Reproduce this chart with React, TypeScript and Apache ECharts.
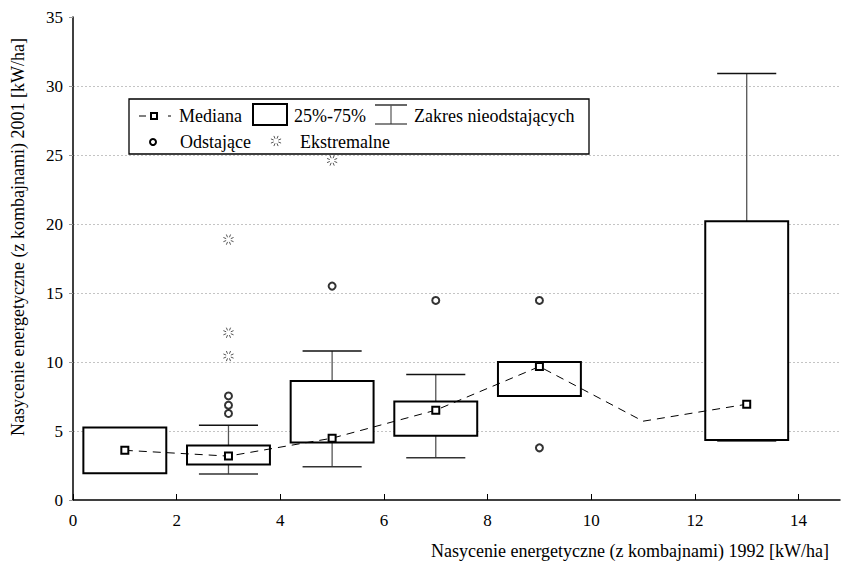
import React, { useEffect, useRef } from "react";
import * as echarts from "echarts";

const FONT = "Liberation Serif";

// Category positions (x) of the groups
const xCats = [1, 3, 5, 7, 9, 11, 13];
// Medians per group
const medians = [3.6, 3.18, 4.48, 6.51, 9.67, 5.71, 6.94];
// Box quartiles (null = no box drawn)
const q1 = [1.93, 2.58, 4.17, 4.65, 7.54, null, 4.34];
const q3 = [5.26, 3.95, 8.63, 7.14, 10.0, null, 20.2];
// Non-outlier range (null = no whisker)
const whiskerLow = [null, 1.88, 2.41, 3.06, null, null, 4.27];
const whiskerHigh = [null, 5.42, 10.8, 9.09, null, null, 30.9];
// Outliers [x, y]
const outliers = [
  [3, 7.54],
  [3, 6.87],
  [3, 6.27],
  [5, 15.5],
  [7, 14.46],
  [9, 14.46],
  [9, 3.78],
];
// Extremes [x, y]
const extremes = [
  [3, 18.87],
  [3, 12.12],
  [3, 10.43],
  [5, 24.6],
];
const xTicks = [0, 2, 4, 6, 8, 10, 12, 14];
const yTicks = [0, 5, 10, 15, 20, 25, 30, 35];

const xTitle = "Nasycenie energetyczne (z kombajnami) 1992 [kW/ha]";
const yTitle = "Nasycenie energetyczne (z kombajnami) 2001 [kW/ha]";

export default function App() {
  const ref = useRef<HTMLDivElement>(null);

  useEffect(() => {
    if (!ref.current) return;
    const chart = echarts.init(ref.current, null, { renderer: "svg" });

    const boxData: number[][] = [];
    xCats.forEach((x, i) => {
      const a = q1[i];
      const b = q3[i];
      if (a == null || b == null) return;
      const wl = whiskerLow[i] == null ? a : (whiskerLow[i] as number);
      const wh = whiskerHigh[i] == null ? b : (whiskerHigh[i] as number);
      boxData.push([x, wl, a, b, wh]);
    });

    const boxHalf = 0.8;
    const capHalf = 0.57;
    const LF = 18;

    const option: any = {
      animation: false,
      backgroundColor: "#fff",
      textStyle: { fontFamily: FONT },
      grid: { left: 73, right: 2, top: 17, bottom: 65, containLabel: false },
      xAxis: {
        type: "value",
        min: 0,
        max: 14.8,
        interval: 2,
        axisLine: { show: true, onZero: false, lineStyle: { color: "#000", width: 1.5 } },
        axisTick: { show: true, inside: true, length: 6, lineStyle: { color: "#000", width: 1 }, customValues: xTicks },
        axisLabel: {
          color: "#000",
          fontFamily: FONT,
          fontSize: 17,
          margin: 12,
          customValues: xTicks,
        },
        splitLine: { show: false },
      },
      yAxis: {
        type: "value",
        min: 0,
        max: 35,
        interval: 5,
        axisLine: { show: true, lineStyle: { color: "#000", width: 1.5 } },
        axisTick: { show: true, inside: false, length: 4, lineStyle: { color: "#999", width: 1 } },
        axisLabel: { color: "#000", fontFamily: FONT, fontSize: 17, margin: 10, customValues: yTicks },
        splitLine: {
          show: true,
          showMinLine: false,
          showMaxLine: false,
          lineStyle: { type: [2, 2], color: "#c4c4c4", width: 1 },
        },
      },
      series: [
        {
          type: "custom",
          name: "boxes",
          z: 2,
          encode: { x: 0, y: [1, 2, 3, 4] },
          data: boxData,
          renderItem: (params: any, api: any) => {
            const x = api.value(0);
            const wl = api.value(1);
            const a = api.value(2);
            const b = api.value(3);
            const wh = api.value(4);
            const pA = api.coord([x, a]);
            const pB = api.coord([x, b]);
            const pWl = api.coord([x, wl]);
            const pWh = api.coord([x, wh]);
            const hw = api.size([boxHalf, 0])[0];
            const cw = api.size([capHalf, 0])[0];
            const cx = pA[0];
            const children: any[] = [];
            if (wl < a) {
              children.push({
                type: "line",
                shape: { x1: cx, y1: pA[1], x2: cx, y2: pWl[1] },
                style: { stroke: "#555", lineWidth: 1.3 },
              });
              children.push({
                type: "line",
                shape: { x1: cx - cw, y1: pWl[1], x2: cx + cw, y2: pWl[1] },
                style: { stroke: "#333", lineWidth: 1.5 },
              });
            }
            if (wh > b) {
              children.push({
                type: "line",
                shape: { x1: cx, y1: pB[1], x2: cx, y2: pWh[1] },
                style: { stroke: "#555", lineWidth: 1.3 },
              });
              children.push({
                type: "line",
                shape: { x1: cx - cw, y1: pWh[1], x2: cx + cw, y2: pWh[1] },
                style: { stroke: "#111", lineWidth: 1.5 },
              });
            }
            children.push({
              type: "rect",
              shape: { x: cx - hw, y: pB[1], width: 2 * hw, height: pA[1] - pB[1] },
              style: { fill: "#fff", stroke: "#000", lineWidth: 2 },
            });
            return { type: "group", children };
          },
        },
        {
          type: "line",
          name: "Mediana",
          z: 4,
          data: xCats.map((x, i) => ({
            value: [x, medians[i]],
            symbol: q1[i] == null ? "none" : "rect",
          })),
          symbolSize: 7,
          itemStyle: { color: "#fff", borderColor: "#000", borderWidth: 2 },
          lineStyle: { color: "#000", width: 1, type: [8, 6] },
        },
        {
          type: "scatter",
          name: "Odstające",
          z: 4,
          data: outliers,
          symbol: "circle",
          symbolSize: 7,
          itemStyle: { color: "#fff", borderColor: "#000", borderWidth: 2 },
        },
        {
          type: "custom",
          name: "Ekstremalne",
          z: 4,
          data: extremes,
          encode: { x: 0, y: 1 },
          renderItem: (params: any, api: any) => {
            const p = api.coord([api.value(0), api.value(1)]);
            const children: any[] = [];
            for (let k = 0; k < 8; k++) {
              const ang = (k * Math.PI) / 4 + Math.PI / 8;
              children.push({
                type: "line",
                shape: {
                  x1: p[0] + Math.cos(ang) * 2.5,
                  y1: p[1] + Math.sin(ang) * 2.5,
                  x2: p[0] + Math.cos(ang) * 5.5,
                  y2: p[1] + Math.sin(ang) * 5.5,
                },
                style: { stroke: "#555", lineWidth: 1 },
              });
            }
            return { type: "group", children };
          },
        },
      ],
      graphic: [
        // axis titles
        {
          type: "text",
          x: 18,
          y: 237,
          rotation: Math.PI / 2,
          style: {
            text: yTitle,
            fontFamily: FONT,
            fontSize: 18,
            fill: "#000",
            align: "center",
            verticalAlign: "middle",
          },
        },
        {
          type: "text",
          x: 829,
          y: 551,
          style: {
            text: xTitle,
            fontFamily: FONT,
            fontSize: 18,
            fill: "#000",
            align: "right",
            verticalAlign: "middle",
          },
        },
        // legend
        {
          type: "group",
          z: 100,
          children: [
            {
              type: "rect",
              shape: { x: 129, y: 99, width: 460, height: 55 },
              style: { fill: "#fff", stroke: "#000", lineWidth: 1.3 },
            },
            // median symbol
            { type: "line", shape: { x1: 139, y1: 116, x2: 146, y2: 116 }, style: { stroke: "#000", lineWidth: 1 } },
            {
              type: "rect",
              shape: { x: 151, y: 113, width: 6, height: 6 },
              style: { fill: "#fff", stroke: "#000", lineWidth: 2 },
            },
            { type: "line", shape: { x1: 168, y1: 116, x2: 171, y2: 116 }, style: { stroke: "#000", lineWidth: 1 } },
            {
              type: "text",
              x: 179,
              y: 116,
              style: { text: "Mediana", fontFamily: FONT, fontSize: LF, fill: "#000", verticalAlign: "middle" },
            },
            // box symbol
            {
              type: "rect",
              shape: { x: 253, y: 104, width: 34, height: 21 },
              style: { fill: "#fff", stroke: "#000", lineWidth: 2 },
            },
            {
              type: "text",
              x: 294,
              y: 116,
              style: { text: "25%-75%", fontFamily: FONT, fontSize: LF, fill: "#000", verticalAlign: "middle" },
            },
            // whisker symbol
            { type: "line", shape: { x1: 375, y1: 105, x2: 407, y2: 105 }, style: { stroke: "#000", lineWidth: 1.2 } },
            { type: "line", shape: { x1: 391, y1: 105, x2: 391, y2: 124 }, style: { stroke: "#555", lineWidth: 1.2 } },
            { type: "line", shape: { x1: 375, y1: 124, x2: 407, y2: 124 }, style: { stroke: "#333", lineWidth: 1.2 } },
            {
              type: "text",
              x: 414,
              y: 116,
              style: { text: "Zakres nieodstających", fontFamily: FONT, fontSize: LF, fill: "#000", verticalAlign: "middle" },
            },
            // outlier symbol
            {
              type: "circle",
              shape: { cx: 153, cy: 142, r: 3 },
              style: { fill: "#fff", stroke: "#000", lineWidth: 2 },
            },
            {
              type: "text",
              x: 180,
              y: 142,
              style: { text: "Odstające", fontFamily: FONT, fontSize: LF, fill: "#000", verticalAlign: "middle" },
            },
            // extreme symbol
            ...[0, 1, 2, 3, 4, 5, 6, 7].map((k) => {
              const ang = (k * Math.PI) / 4 + Math.PI / 8;
              return {
                type: "line",
                shape: {
                  x1: 276 + Math.cos(ang) * 2.5,
                  y1: 141 + Math.sin(ang) * 2.5,
                  x2: 276 + Math.cos(ang) * 5.5,
                  y2: 141 + Math.sin(ang) * 5.5,
                },
                style: { stroke: "#555", lineWidth: 1 },
              };
            }),
            {
              type: "text",
              x: 300,
              y: 142,
              style: { text: "Ekstremalne", fontFamily: FONT, fontSize: LF, fill: "#000", verticalAlign: "middle" },
            },
          ],
        },
      ],
    };

    chart.setOption(option);
    return () => {
      chart.dispose();
    };
  }, []);

  return (
    <div
      ref={ref}
      style={{ position: "absolute", left: 0, top: 0, width: 842, height: 565, background: "#fff" }}
    />
  );
}
